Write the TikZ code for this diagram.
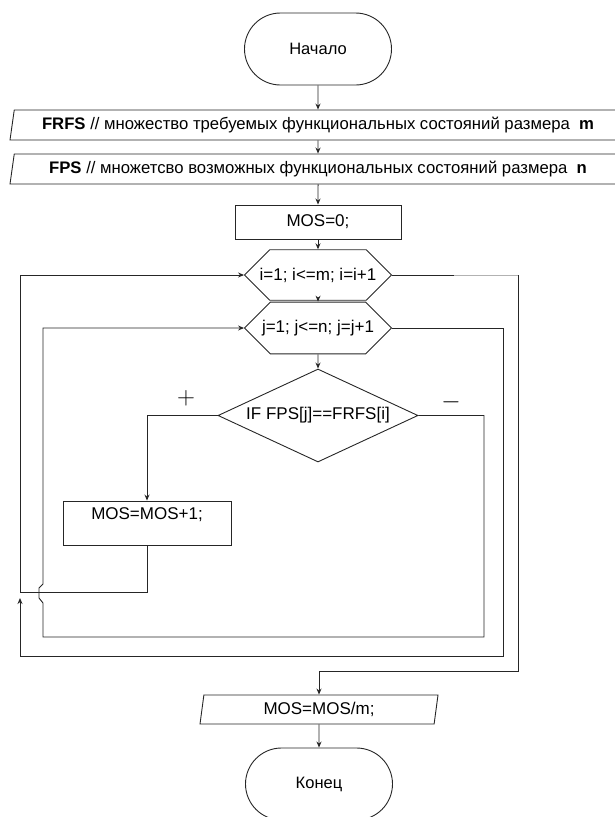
\documentclass[tikz,border=0pt]{standalone}
\usepackage{fontspec}
\setmainfont{Liberation Sans}
\usetikzlibrary{shapes.geometric,shapes.misc,arrows.meta}

\tikzset{
  termbox/.style={draw, rounded rectangle, minimum width=147pt, minimum height=72pt, inner sep=0pt},
  iobox/.style={draw, trapezium, trapezium left angle=75, trapezium right angle=105,
    trapezium stretches body, minimum height=30pt, inner sep=0pt},
  actbox/.style={draw, rectangle, inner sep=0pt},
  loopbox/.style={draw, chamfered rectangle, chamfered rectangle xsep=23pt,
    chamfered rectangle ysep=18pt, minimum width=147pt, minimum height=36pt, inner sep=0pt},
  condbox/.style={draw, diamond, aspect=2.15, minimum width=200pt, minimum height=93pt, inner sep=0pt},
  flow/.style={-{Stealth[length=6pt,width=5pt]}},
  sign/.style={inner sep=0pt, font=\fontsize{23}{23}\selectfont}
}

\begin{document}
\begin{tikzpicture}[x=1pt, y=-1pt, line width=0.9pt, draw=black!85,
    font=\fontsize{17}{20}\selectfont]
  \useasboundingbox (0,0) rectangle (614,817);

  % blocks
  \node[termbox, font=\fontsize{16.5}{20}\selectfont] (start) at (318,49) {Начало};
  \node[iobox, minimum width=616pt, font=\fontsize{16.7}{20}\selectfont] (frfs) at (318,125)
    {\textbf{FRFS} // множество требуемых функциональных состояний размера\ \ \textbf{m}};
  \node[iobox, minimum width=616pt, font=\fontsize{16.7}{20}\selectfont] (fps) at (318,169)
    {\textbf{FPS} // множетсво возможных функциональных состояний размера\ \ \textbf{n}};
  \node[actbox, minimum width=166pt, minimum height=34pt] (mos0) at (318,222) {MOS=0;};
  \node[loopbox] (hexi) at (318,275) {i=1; i<=m; i=i+1};
  \node[loopbox] (hexj) at (318,328) {j=1; j<=n; j=j+1};
  \node[condbox] (cond) at (318,415.5) {IF FPS[j]==FRFS[i]};
  \node[actbox, minimum width=168pt, minimum height=44pt, text height=12pt, text depth=20pt]
    (mosinc) at (147,523) {MOS=MOS+1;};
  \node[iobox, minimum width=238pt, minimum height=29pt] (out) at (319,709.5) {MOS=MOS/m;};
  \node[termbox, font=\fontsize{16.5}{20}\selectfont] (end) at (319,784) {Конец};

  \node[sign] (plus) at (186,398) {$+$};
  \node[sign] (minus) at (451,402) {$-$};

  % turning points
  \coordinate (iret) at (20,592);
  \coordinate (jturn) at (503,656);
  \coordinate (jend) at (20,598);
  \coordinate (nturn) at (484,637);
  \coordinate (hopbot) at (43,603);
  \coordinate (igray) at (454,275);
  \coordinate (icorner) at (518,275);
  \coordinate (iexit) at (518,671);

  % main line
  \draw[flow] (start) -- (frfs);
  \draw[flow] (frfs) -- (fps);
  \draw[flow] (fps) -- (mos0);
  \draw[flow] (mos0) -- (hexi);
  \draw[flow] (hexi) -- (hexj);
  \draw[flow] (hexj) -- (cond);
  \draw[flow] (out) -- (end);

  % branches and loops
  \draw[flow] (cond.west) -| (mosinc.north);
  \draw[flow] (mosinc.south) |- (iret) |- (hexi.west);
  \draw[flow] (cond.east) -| (nturn) -| (hopbot)
    -- ++(-4,-5) -- ++(0,-10) -- ++(4,-4) |- (hexj.west);
  \draw[flow] (hexj.east) -| (jturn) -| (jend);
  \draw (hexi.east) -- (igray);
  \draw[black!30] (igray) -- (icorner);
  \draw[flow] (icorner) -- (iexit) -| (out.north);
\end{tikzpicture}
\end{document}
